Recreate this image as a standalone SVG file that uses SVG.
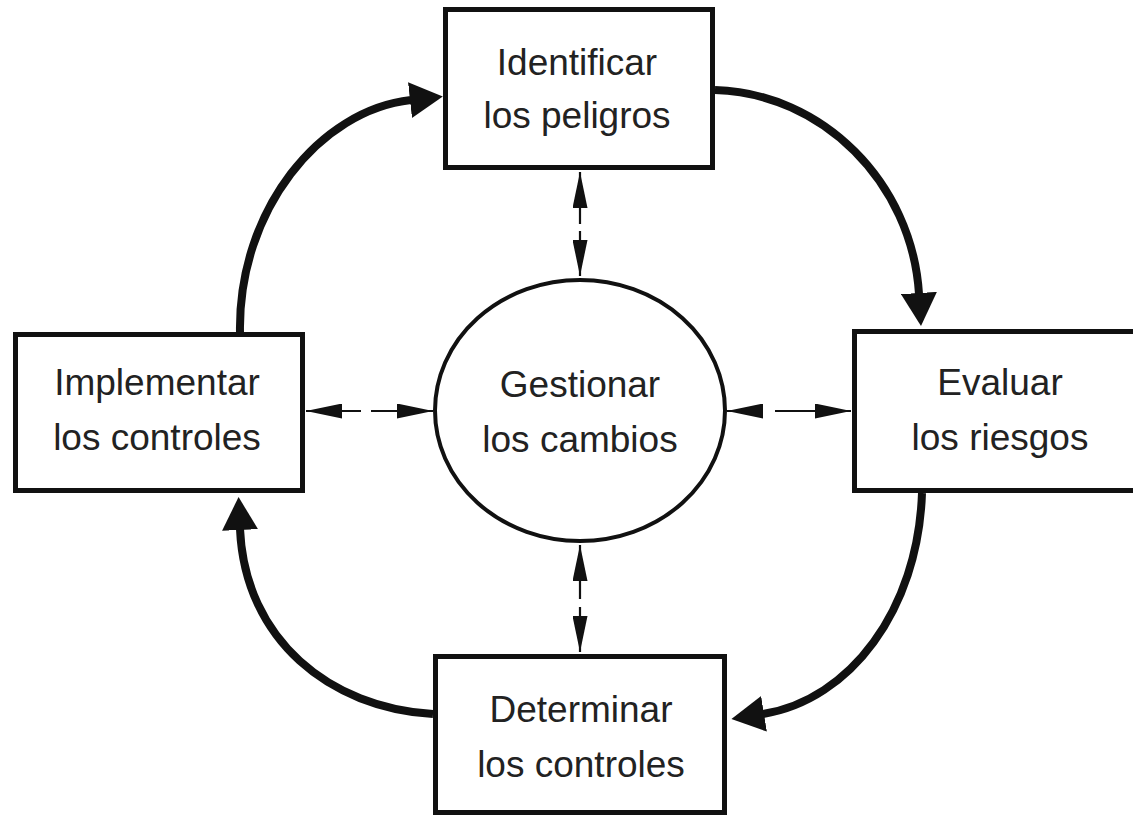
<svg xmlns="http://www.w3.org/2000/svg" width="1133" height="817" viewBox="0 0 1133 817">
<style>
.box{fill:#fff;stroke:#111;stroke-width:5}
.ell{fill:#fff;stroke:#111;stroke-width:4}
.lbl{font-family:"Liberation Sans",Arial,sans-serif;font-size:37px;fill:#222;text-anchor:middle}
.thick{fill:none;stroke:#111;stroke-width:8;marker-end:url(#big)}
.dash{fill:none;stroke:#111;stroke-width:2.2;marker-start:url(#smallS);marker-end:url(#smallE)}
</style>
<defs>
<marker id="big" markerUnits="userSpaceOnUse" viewBox="0 0 33 36" refX="1" refY="18" markerWidth="33" markerHeight="36" orient="auto">
<path d="M0,0 L33,18 L0,36 z" fill="#111"/>
</marker>
<marker id="smallE" markerUnits="userSpaceOnUse" viewBox="0 0 36 15" refX="36" refY="7.5" markerWidth="36" markerHeight="15" orient="auto">
<path d="M0,0 L36,7.5 L0,15 z" fill="#111"/>
</marker>
<marker id="smallS" markerUnits="userSpaceOnUse" viewBox="0 0 36 15" refX="0" refY="7.5" markerWidth="36" markerHeight="15" orient="auto">
<path d="M36,0 L0,7.5 L36,15 z" fill="#111"/>
</marker>
</defs>
<rect width="1133" height="817" fill="#fff"/>
<g id="connectors">
<path class="thick" d="M240 332 C 238 210 320 110 411 100"/>
<path class="thick" d="M715 90 C 822 93 912 182 919 294"/>
<path class="thick" d="M922 493 C 918 610 850 700 763 714"/>
<path class="thick" d="M433 714 C 330 708 245 640 240 529"/>
<line class="dash" x1="580" y1="172" x2="580" y2="276" stroke-dasharray="52 7 60"/>
<line class="dash" x1="580" y1="545" x2="580" y2="652" stroke-dasharray="54 8 60"/>
<line class="dash" x1="306" y1="411" x2="433" y2="411" stroke-dasharray="55 10 70"/>
<line class="dash" x1="727" y1="411" x2="851" y2="411" stroke-dasharray="34 14 90"/>
</g>
<g id="node-identificar">
<rect class="box" x="445.5" y="9.5" width="267" height="158"/>
<text class="lbl" x="577" y="75">Identificar</text>
<text class="lbl" x="577" y="128">los peligros</text>
</g>
<g id="node-evaluar">
<rect class="box" x="854.5" y="331.5" width="300" height="159"/>
<text class="lbl" x="1000" y="395">Evaluar</text>
<text class="lbl" x="1000" y="450">los riesgos</text>
</g>
<g id="node-determinar">
<rect class="box" x="435.5" y="656.5" width="289" height="156"/>
<text class="lbl" x="581" y="722">Determinar</text>
<text class="lbl" x="581" y="777">los controles</text>
</g>
<g id="node-implementar">
<rect class="box" x="15.5" y="334.5" width="287" height="156"/>
<text class="lbl" x="157" y="395">Implementar</text>
<text class="lbl" x="157" y="450">los controles</text>
</g>
<g id="node-gestionar">
<ellipse class="ell" cx="580" cy="410.5" rx="145" ry="130.5"/>
<text class="lbl" x="580" y="397">Gestionar</text>
<text class="lbl" x="580" y="452">los cambios</text>
</g>
</svg>
